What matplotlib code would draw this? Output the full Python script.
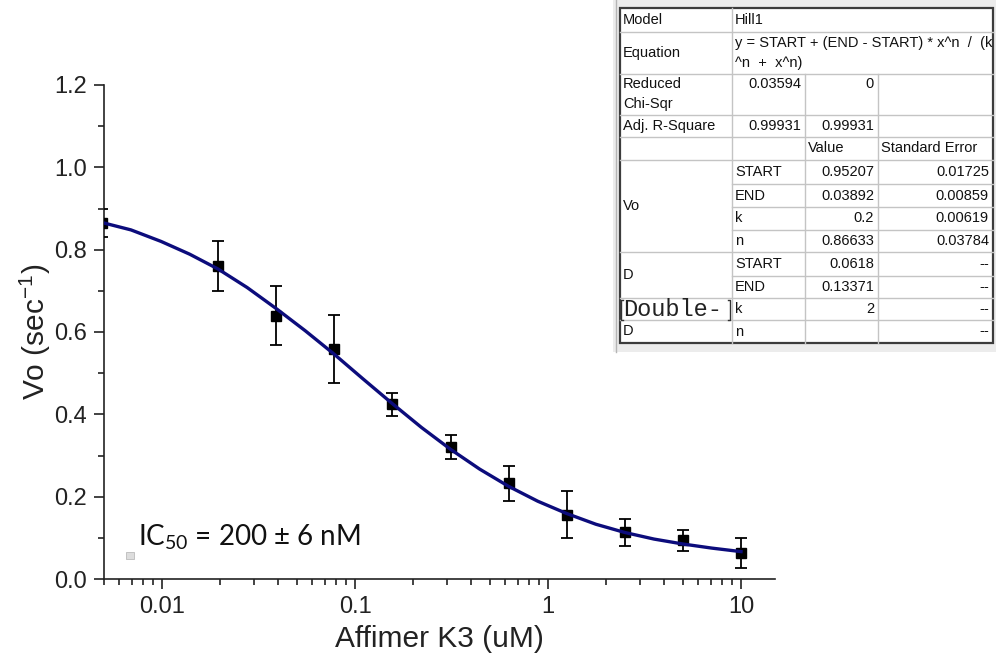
import numpy as np
import matplotlib
matplotlib.use('Agg')
import matplotlib.pyplot as plt
from matplotlib.patches import Rectangle
from matplotlib.ticker import MultipleLocator, FixedLocator, FixedFormatter, LogLocator, NullFormatter

plt.rcParams['font.family'] = ['Liberation Sans', 'DejaVu Sans']
plt.rcParams['mathtext.default'] = 'regular'

# measured points (2-fold dilution series)
conc = [0.00488, 0.0195, 0.039, 0.078, 0.156, 0.3125, 0.625, 1.25, 2.5, 5, 10]
vo = [0.865, 0.760, 0.640, 0.559, 0.424, 0.320, 0.232, 0.156, 0.113, 0.094, 0.063]
vo_err = [0.035, 0.061, 0.071, 0.082, 0.028, 0.029, 0.043, 0.057, 0.033, 0.026, 0.037]

# fitted curve
fit_x = [0.00488, 0.0069, 0.00988, 0.0139, 0.0195, 0.0276, 0.039, 0.0552, 0.078,
         0.110, 0.156, 0.221, 0.3125, 0.442, 0.625, 0.884, 1.25, 1.77, 2.5, 3.54, 5, 7.07, 10]
fit_y = [0.866, 0.848, 0.820, 0.789, 0.753, 0.708, 0.657, 0.603, 0.546,
         0.486, 0.426, 0.368, 0.315, 0.267, 0.225, 0.189, 0.159, 0.133, 0.113, 0.097, 0.085, 0.075, 0.0665]

x_ticks = [0.01, 0.1, 1, 10]
x_labels = ['0.01', '0.1', '1', '10']

# fit report table
model_name = 'Hill1'
equation = ['y = START + (END - START) * x^n  /  (k', '^n  +  x^n)']
chi_sqr = ['0.03594', '0']
adj_r2 = ['0.99931', '0.99931']
vo_params = ['START', 'END', 'k', 'n']
vo_values = ['0.95207', '0.03892', '0.2', '0.86633']
vo_errors = ['0.01725', '0.00859', '0.00619', '0.03784']
d_params = ['START', 'END', 'k', 'n']
d_values = ['0.0618', '0.13371', '2', '']
d_errors = ['--', '--', '--', '--']

fig = plt.figure(figsize=(9.96, 6.59), dpi=100)
W, H = 996, 659
ax = fig.add_axes([104 / W, 1 - 579 / H, 671 / W, 494 / H])

ax.errorbar(conc, vo, yerr=vo_err, fmt='s', color='black', ms=7.5, capsize=4.5,
            elinewidth=1.3, capthick=1.3, zorder=3)
ax.plot(fit_x, fit_y, color='#0c0c7c', lw=2.4, zorder=4)

ax.set_xscale('log')
ax.set_xlim(0.005, 15)
ax.set_ylim(0, 1.2)
ax.xaxis.set_major_locator(FixedLocator(x_ticks))
ax.xaxis.set_major_formatter(FixedFormatter(x_labels))
ax.xaxis.set_minor_locator(LogLocator(base=10, subs=np.arange(2, 10)))
ax.xaxis.set_minor_formatter(NullFormatter())
ax.yaxis.set_major_locator(MultipleLocator(0.2))
ax.yaxis.set_minor_locator(MultipleLocator(0.1))
ax.yaxis.set_major_formatter(lambda v, p: '%.1f' % v)

for s in ['top', 'right']:
    ax.spines[s].set_visible(False)
for s in ['left', 'bottom']:
    ax.spines[s].set_linewidth(1.2)
    ax.spines[s].set_color('#222222')
ax.tick_params(which='major', direction='out', length=7, width=1.2, color='#222222',
               labelsize=17, labelcolor='#222222', pad=5)
ax.tick_params(which='minor', direction='out', length=4, width=1.2, color='#222222')

ax.set_xlabel('Affimer K3 (uM)', fontsize=21.5, color='#222222', labelpad=5)
ax.set_ylabel('Vo (sec$^{-1}$)', fontsize=21.5, color='#222222', labelpad=1)

# overlay in pixel coordinates for the annotation and the table
ov = fig.add_axes([0, 0, 1, 1], zorder=5)
ov.set_xlim(0, W)
ov.set_ylim(H, 0)
ov.axis('off')
ov.patch.set_alpha(0)

ov.text(138, 546, 'IC$_{50}$ = 200 ± 6 nM', fontsize=20, family=['Lato', 'DejaVu Sans'],
        color='#111111', ha='left', va='baseline')
ov.add_patch(Rectangle((126, 552), 8, 7, facecolor='#dddddd', edgecolor='#bbbbbb', lw=0.6))

# table frame
ov.add_patch(Rectangle((613, 0), W - 613, 352, facecolor='#ececec', edgecolor='none'))
ov.plot([616, 616], [0, 352], color='#b5b5b5', lw=1)
col_x = [620, 732, 805, 878, 993]
row_y = [8, 32, 74, 115, 137, 160, 184, 207, 230, 252, 276, 298, 320, 343]
tab = Rectangle((col_x[0], row_y[0]), col_x[-1] - col_x[0], row_y[-1] - row_y[0],
                facecolor='white', edgecolor='none')
ov.add_patch(tab)

grid = dict(color='#c4c4c4', lw=1)
for y in [32, 74, 115, 137, 160, 252, 298, 320]:
    ov.plot([col_x[0], col_x[-1]], [y, y], **grid)
for y in [184, 207, 230, 276]:
    ov.plot([col_x[1], col_x[-1]], [y, y], **grid)
ov.plot([col_x[1], col_x[1]], [row_y[0], row_y[-1]], **grid)
ov.plot([col_x[2], col_x[2]], [row_y[2], row_y[-1]], **grid)
ov.plot([col_x[3], col_x[3]], [row_y[2], row_y[-1]], **grid)
ov.add_patch(Rectangle((col_x[0], row_y[0]), col_x[-1] - col_x[0], row_y[-1] - row_y[0],
                       facecolor='none', edgecolor='#3c3c3c', lw=1.6))


def cell(x, y, s, ha='left', **kw):
    t = ov.text(x, y, s, ha=ha, va='center', fontsize=10.5, color='#111111', **kw)
    t.set_clip_path(tab)
    return t


lx, vx, ex = col_x[0] + 3, col_x[1] + 3, col_x[2] + 3
r1, r2, r3 = col_x[2] - 4, col_x[3] - 4, col_x[4] - 4
cell(lx, 20, 'Model')
cell(vx, 20, model_name)
cell(lx, 53, 'Equation')
cell(vx, 43, equation[0])
cell(vx, 63, equation[1])
cell(lx, 84, 'Reduced')
cell(lx, 104, 'Chi-Sqr')
cell(r1, 84, chi_sqr[0], ha='right')
cell(r2, 84, chi_sqr[1], ha='right')
cell(lx, 126, 'Adj. R-Square')
cell(r1, 126, adj_r2[0], ha='right')
cell(r2, 126, adj_r2[1], ha='right')
cell(ex, 148, 'Value')
cell(col_x[3] + 3, 148, 'Standard Error')

cell(lx, 206, 'Vo')
for i in range(4):
    yc = (row_y[5 + i] + row_y[6 + i]) / 2
    cell(vx, yc, vo_params[i])
    cell(r2, yc, vo_values[i], ha='right')
    cell(r3, yc, vo_errors[i], ha='right')
for i in range(4):
    yc = (row_y[9 + i] + row_y[10 + i]) / 2
    cell(vx, yc, d_params[i])
    cell(r2, yc, d_values[i], ha='right')
    cell(r3, yc, d_errors[i], ha='right')
cell(lx, 275, 'D')
ov.text(623, 310, 'Double-', fontsize=17, family=['Liberation Mono', 'DejaVu Sans Mono'],
        color='#222222', ha='left', va='center')
ov.plot([623, 621, 621, 623], [300, 300, 320, 320], color='#333333', lw=1)
ov.plot([728, 730, 730, 728], [300, 300, 320, 320], color='#333333', lw=1)
cell(lx, 331, 'D')

fig.savefig('out.png', dpi=100)
